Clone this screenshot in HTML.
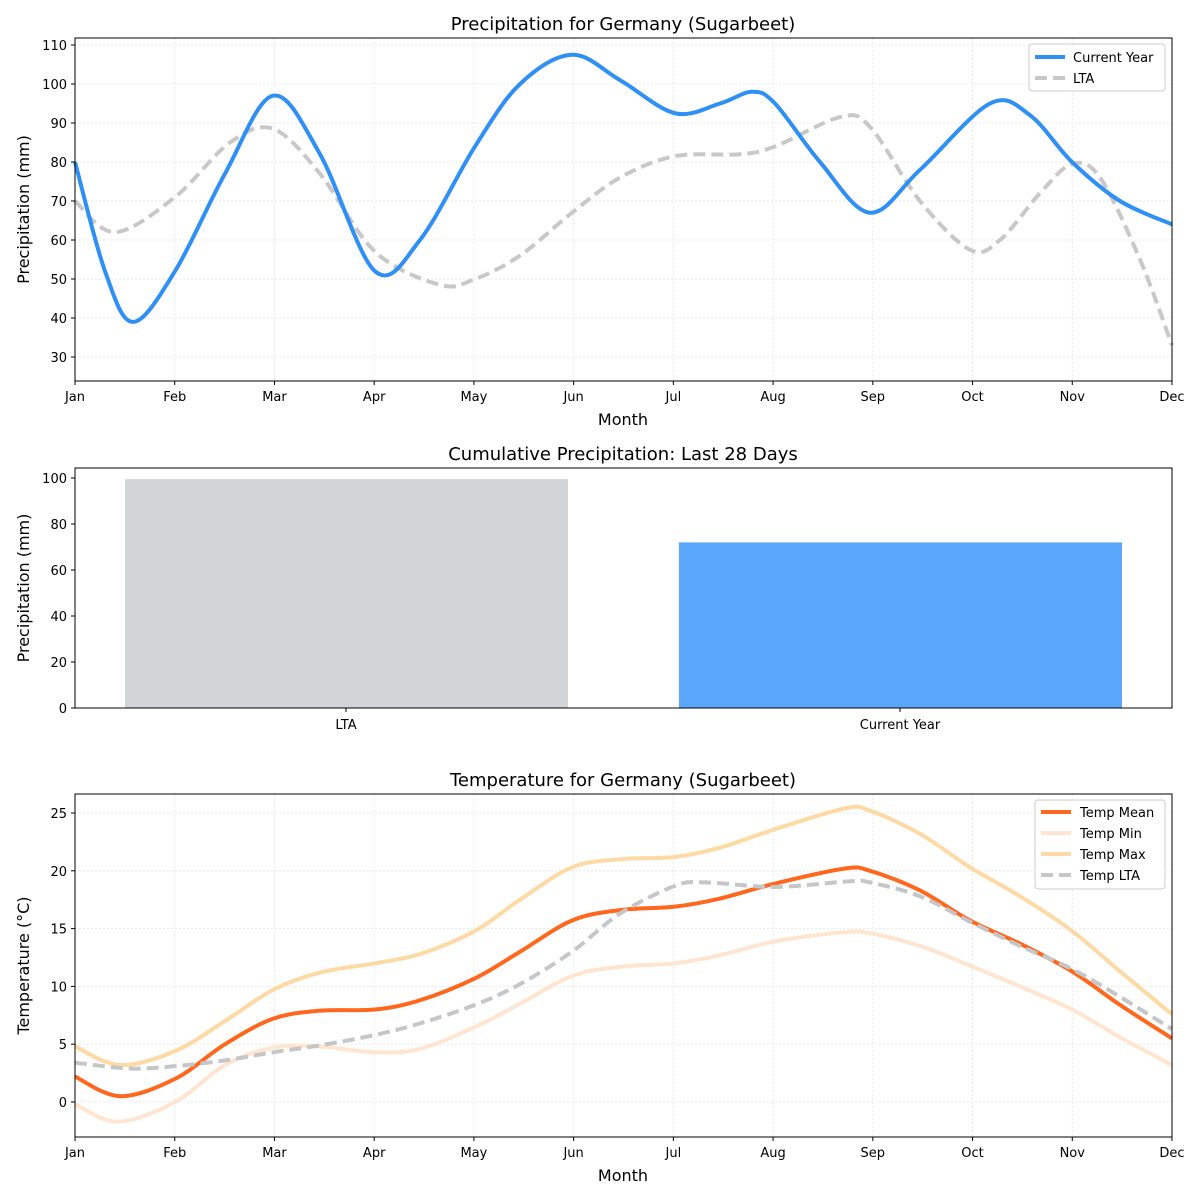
<!DOCTYPE html>
<html><head><meta charset="utf-8"><style>
body{margin:0;background:#fff}
svg{display:block;font-family:"DejaVu Sans","Liberation Sans",sans-serif}
</style></head><body>
<svg id="s" width="1200" height="1200" viewBox="0 0 1200 1200" xmlns="http://www.w3.org/2000/svg">
<rect width="1200" height="1200" fill="#fff"/>
<g id="g"></g>
</svg>
<script>
const NS="http://www.w3.org/2000/svg",G=document.getElementById('g');
function el(t,a,txt){const e=document.createElementNS(NS,t);for(const k in a)e.setAttribute(k,a[k]);if(txt!==undefined)e.textContent=txt;G.appendChild(e);return e;}
function cr(p){let d=`M${p[0][0]},${p[0][1]}`;for(let i=0;i<p.length-1;i++){const p0=p[Math.max(0,i-1)],p1=p[i],p2=p[i+1],p3=p[Math.min(p.length-1,i+2)];
d+=` C${p1[0]+(p2[0]-p0[0])/6},${p1[1]+(p2[1]-p0[1])/6} ${p2[0]-(p3[0]-p1[0])/6},${p2[1]-(p3[1]-p1[1])/6} ${p2[0]},${p2[1]}`;}return d;}
const months=["Jan","Feb","Mar","Apr","May","Jun","Jul","Aug","Sep","Oct","Nov","Dec"];
const X0=75,X1=1172,mx=i=>X0+i*(X1-X0)/11;
function axes(top,bot,yt,yf,grid,xl,title,ylab,months_){
 if(grid){for(let i=0;i<12;i++)el('line',{x1:mx(i),x2:mx(i),y1:top,y2:bot,stroke:'#e4e4e4','stroke-dasharray':'2,2','stroke-width':0.8});
 yt.forEach(v=>el('line',{x1:X0,x2:X1,y1:yf(v),y2:yf(v),stroke:'#e4e4e4','stroke-dasharray':'2,2','stroke-width':0.8}));}
 yt.forEach(v=>{el('line',{x1:X0-4,x2:X0,y1:yf(v),y2:yf(v),stroke:'#000'});el('text',{x:X0-8,y:yf(v)+5,'text-anchor':'end','font-size':13},v);});
 if(months_)months_.forEach((m,i)=>{el('line',{x1:mx(i),x2:mx(i),y1:bot,y2:bot+4,stroke:'#000'});el('text',{x:mx(i),y:bot+20,'text-anchor':'middle','font-size':13},m);});
 if(xl)el('text',{x:623,y:bot+44,'text-anchor':'middle','font-size':16},xl);
 el('text',{x:623,y:top-8,'text-anchor':'middle','font-size':18},title);
 el('text',{transform:`translate(29,${(top+bot)/2}) rotate(-90)`,'text-anchor':'middle','font-size':16},ylab);
}
function frame(top,bot){el('rect',{x:X0,y:top,width:X1-X0,height:bot-top,fill:'none',stroke:'#000','stroke-width':1});}
function line(pts,yf,col,w,dash){const p=pts.map(q=>[q[0],yf(q[1])]);const a={d:cr(p),fill:'none',stroke:col,'stroke-width':w};if(dash)a['stroke-dasharray']=dash;el('path',a);}
const y1=v=>357-(v-30)*3.9;
axes(38,381,[30,40,50,60,70,80,90,100,110],y1,true,'Month','Precipitation for Germany (Sugarbeet)','Precipitation (mm)',months);
line([[75,70],[115,62],[175,71],[230,85],[273,88.5],[320,77],[375,57],[440,48.5],[475,50],[520,56],[572,67],[620,76],[675,81.5],[740,82],[775,84],[840,91.5],[870,89],[920,70],[970,57.5],[1000,60],[1040,72],[1072,79.5],[1100,76],[1140,55],[1172,33]],y1,'#c8c8c8',4,'12,6');
line([[75,80],[105,52],[133,39],[175,52],[225,77],[273,97],[320,82],[375,52],[420,60],[475,84],[520,100],[572,107.5],[620,101],[675,92.5],[720,95],[752,98],[775,95],[820,80],[870,67],[920,78],[990,95],[1030,92],[1072,80],[1120,70],[1172,64]],y1,'#2e8ff5',4);
frame(38,381);
el('rect',{x:1029,y:44,width:136,height:47,fill:'#fff',stroke:'#ccc',rx:3});
el('line',{x1:1035,x2:1065,y1:57,y2:57,stroke:'#2e8ff5','stroke-width':4});
el('text',{x:1073,y:62,'font-size':13},'Current Year');
el('line',{x1:1035,x2:1065,y1:78,y2:78,stroke:'#c8c8c8','stroke-width':4,'stroke-dasharray':'12,6'});
el('text',{x:1073,y:83,'font-size':13},'LTA');
const y2=v=>708-v*2.3;
axes(468,708,[0,20,40,60,80,100],y2,false,null,'Cumulative Precipitation: Last 28 Days','Precipitation (mm)',null);
el('rect',{x:125,y:y2(99.5),width:443,height:708-y2(99.5),fill:'#d1d5d8'});
el('rect',{x:679,y:y2(72),width:443,height:708-y2(72),fill:'#5aa6fa'});
[[346,'LTA'],[900,'Current Year']].forEach(([x,t])=>{el('line',{x1:x,x2:x,y1:708,y2:712,stroke:'#000'});el('text',{x:x,y:729,'text-anchor':'middle','font-size':13},t);});
frame(468,708);
const y3=v=>1102-v*11.56;
axes(794,1137,[0,5,10,15,20,25],y3,true,'Month','Temperature for Germany (Sugarbeet)','Temperature (°C)',months);
line([[75,-0.2],[118,-1.7],[175,0],[225,3.2],[273,4.7],[320,4.8],[375,4.3],[420,4.6],[475,6.5],[520,8.5],[572,10.9],[620,11.7],[675,12],[720,12.7],[775,13.9],[845,14.7],[870,14.6],[920,13.5],[970,11.8],[1020,10],[1072,8],[1120,5.6],[1172,3.2]],y3,'#ffe5cf',4);
line([[75,4.8],[120,3.2],[175,4.4],[225,7],[273,9.7],[320,11.2],[375,12],[420,12.8],[475,14.8],[520,17.5],[572,20.3],[620,21],[675,21.2],[720,22],[775,23.6],[845,25.4],[870,25.2],[920,23.2],[970,20.3],[1020,17.8],[1072,14.8],[1120,11.3],[1172,7.6]],y3,'#fdd9a3',4);
line([[75,2.2],[120,0.5],[175,2],[225,5],[273,7.2],[320,7.9],[375,8],[420,8.8],[475,10.7],[520,13],[572,15.7],[620,16.6],[675,16.9],[720,17.6],[775,18.9],[845,20.2],[870,20],[920,18.3],[970,15.7],[1020,13.7],[1072,11.3],[1120,8.4],[1172,5.5]],y3,'#ff671c',4);
line([[75,3.4],[130,2.9],[175,3.1],[225,3.6],[273,4.3],[320,4.9],[375,5.8],[420,6.8],[475,8.4],[520,10.2],[572,13],[620,16.3],[675,18.7],[705,19],[775,18.6],[850,19.1],[870,19],[920,17.8],[970,15.6],[1020,13.5],[1072,11.5],[1120,9.1],[1172,6.3]],y3,'#c4c6c8',4,'12,6');
frame(794,1137);
el('rect',{x:1035,y:800,width:130,height:89,fill:'#fff',stroke:'#ccc',rx:3});
[['Temp Mean','#ff671c',null],['Temp Min','#ffe5cf',null],['Temp Max','#fdd9a3',null],['Temp LTA','#c4c6c8','12,6']].forEach(([t,c,d],i)=>{
 const yy=812+i*21;const a={x1:1041,x2:1071,y1:yy,y2:yy,stroke:c,'stroke-width':4};if(d)a['stroke-dasharray']=d;el('line',a);
 el('text',{x:1080,y:yy+5,'font-size':13},t);});
</script>
</body></html>
